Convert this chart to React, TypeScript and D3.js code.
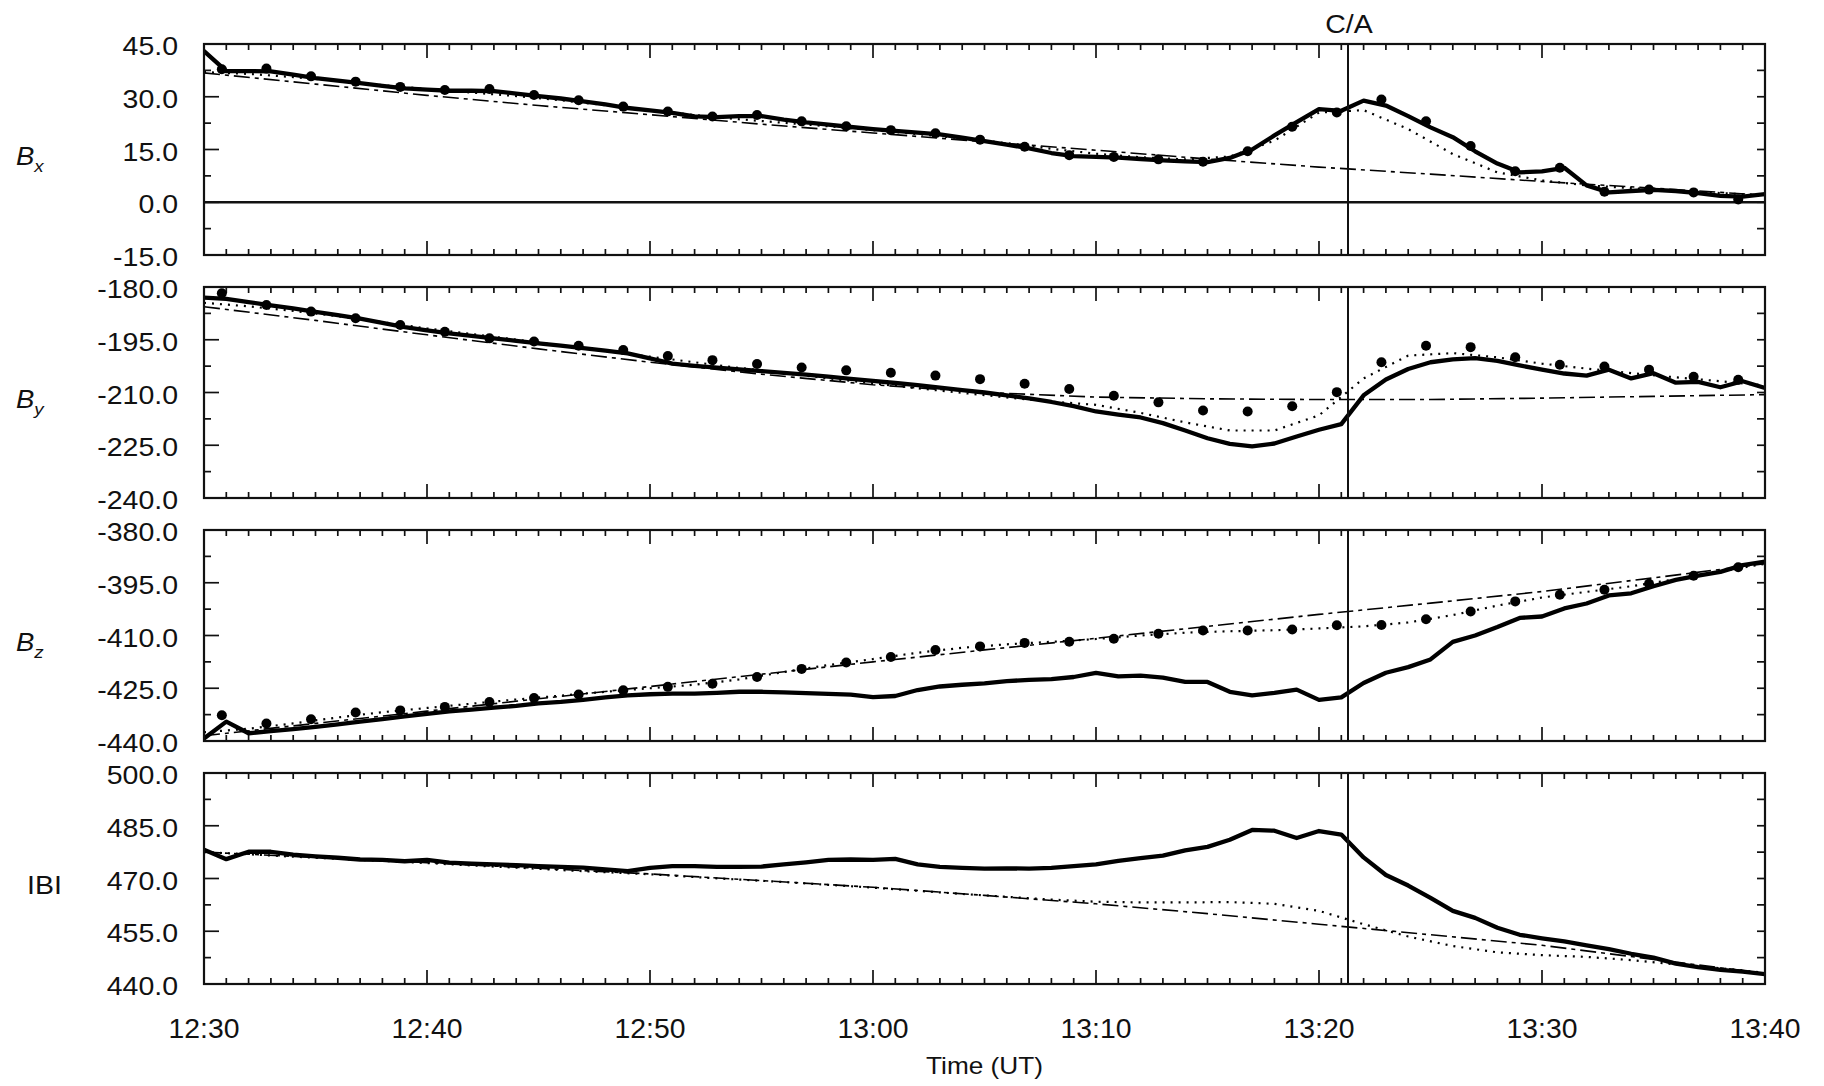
import React from 'react';
import * as d3 from 'd3';

// minutes after 12:30 UT
const timeLabels = ['12:30', '12:40', '12:50', '13:00', '13:10', '13:20', '13:30', '13:40'];
const caMinute = 51.3;

// observed field, one sample per minute 12:30 - 13:40 (nT)
const bxObs = [
  43.0, 37.3, 37.3, 37.2, 36.3, 35.3, 34.6, 33.9, 33.1, 32.4,
  32.0, 31.7, 31.7, 31.6, 30.9, 30.2, 29.5, 28.7, 27.8, 26.8,
  26.1, 25.4, 24.4, 24.2, 24.5, 24.5, 23.5, 22.7, 22.1, 21.4,
  20.8, 20.3, 19.8, 19.3, 18.4, 17.4, 16.4, 15.3, 14.0, 13.1,
  12.9, 12.7, 12.3, 11.9, 11.6, 11.4, 12.6, 15.0, 19.0, 22.8,
  26.5, 26.0, 28.9, 27.5, 24.5, 21.3, 18.5, 14.5, 11.0, 8.5,
  8.8, 9.8, 4.8, 2.8, 3.2, 3.5, 3.2, 2.6, 1.8, 1.6,
  2.3,
];
const byObs = [
  -183.0, -183.4, -184.3, -185.2, -186.1, -187.1, -188.0, -189.0, -190.2, -191.4,
  -192.3, -193.2, -193.9, -194.6, -195.3, -196.0, -196.7, -197.4, -198.1, -198.9,
  -200.3, -201.8, -202.4, -202.9, -203.4, -203.9, -204.4, -204.9, -205.5, -206.1,
  -206.7, -207.3, -207.9, -208.6, -209.3, -210.0, -210.8, -211.7, -212.7, -213.9,
  -215.4, -216.3, -217.1, -218.7, -220.8, -223.0, -224.6, -225.3, -224.5, -222.5,
  -220.6, -219.0, -210.8, -206.3, -203.3, -201.4, -200.6, -200.2, -201.0, -202.3,
  -203.5, -204.6, -205.2, -203.5, -206.0, -204.5, -207.2, -207.0, -208.5, -206.8,
  -208.7,
];
const bzObs = [
  -439.3, -434.5, -437.8, -437.2, -436.6, -436.0, -435.3, -434.5, -433.8, -433.0,
  -432.3, -431.6, -431.1, -430.5, -430.0, -429.3, -428.9, -428.3, -427.6, -427.0,
  -426.7, -426.5, -426.5, -426.3, -426.0, -426.0, -426.2, -426.4, -426.6, -426.8,
  -427.5, -427.2, -425.5, -424.5, -424.0, -423.6, -423.0, -422.6, -422.4, -421.8,
  -420.6, -421.6, -421.4, -422.0, -423.2, -423.2, -426.0, -427.0, -426.3, -425.4,
  -428.3, -427.6, -423.5, -420.6, -419.0, -416.8, -411.8, -410.0, -407.6, -405.0,
  -404.6, -402.3, -400.9, -398.6, -398.0, -396.0, -394.2, -393.0, -391.9, -390.0,
  -389.0,
];
const bmObs = [
  478.2, 475.5, 477.6, 477.6, 476.8, 476.3, 475.9, 475.4, 475.3, 474.9,
  475.3, 474.5, 474.2, 474.0, 473.8, 473.5, 473.3, 473.1, 472.6, 472.1,
  473.0, 473.5, 473.5, 473.3, 473.3, 473.4, 474.0, 474.6, 475.3, 475.4,
  475.3, 475.6, 474.0, 473.3, 473.0, 472.8, 472.9, 472.8, 473.0, 473.5,
  474.0, 475.0, 475.8, 476.5, 478.0, 479.0, 481.0, 483.8, 483.6, 481.5,
  483.5, 482.5, 476.0, 471.0, 468.0, 464.5, 460.8, 458.8, 456.0, 454.0,
  453.0, 452.1, 451.0, 449.9, 448.6, 447.5, 445.8, 444.8, 444.0, 443.5,
  442.8,
];

// background field (dash-dot), every 5 minutes
const bxBase = [36.8, 33.6, 30.4, 27.5, 24.9, 22.2, 19.7, 17.2, 14.8, 12.3, 10.0, 8.0, 5.9, 4.0, 2.0];
const byBase = [-185.6, -189.5, -193.6, -197.6, -201.4, -204.8, -207.8, -210.0, -211.3, -211.8, -212.0, -212.0, -211.6, -211.1, -210.6];
const bzBase = [-438.5, -435.0, -431.5, -428.0, -424.5, -421.0, -417.5, -414.1, -410.8, -407.4, -404.0, -400.8, -397.5, -393.6, -389.6];
const bmBase = [477.5, 476.0, 474.5, 472.9, 471.3, 469.4, 467.5, 465.2, 462.8, 460.0, 457.0, 454.0, 451.0, 447.0, 443.0];

// model field (dotted), every 2 minutes
const bxModel = [
  37.0, 36.5, 35.6, 34.5, 33.3, 32.2, 31.2, 30.2, 29.0, 27.6, 26.2, 24.8,
  23.6, 22.6, 21.6, 20.5, 19.4, 18.2, 16.8, 15.2, 13.8, 12.8, 12.2, 13.0,
  17.5, 25.5, 26.2, 20.8, 13.7, 8.5, 6.2, 4.8, 4.0, 3.3, 2.6, 2.0,
];
const byModel = [
  -184.5, -185.5, -186.8, -188.3, -190.0, -191.8, -193.4, -195.0, -196.6, -198.2, -199.8, -201.4,
  -203.0, -204.5, -206.0, -207.4, -208.8, -210.1, -211.4, -212.6, -213.5, -215.8, -218.5, -220.8,
  -220.8, -216.5, -206.0, -199.5, -198.8, -200.0, -201.8, -203.2, -204.5, -205.7, -206.8, -208.0,
];
const bzModel = [
  -437.5, -436.5, -435.0, -433.3, -431.8, -430.6, -429.4, -428.2, -427.1, -426.0, -425.0, -424.0,
  -422.5, -420.4, -418.4, -416.7, -414.9, -413.5, -412.5, -411.8, -411.0, -410.0, -409.2, -408.8,
  -408.5, -408.0, -407.4, -406.3, -404.2, -401.5, -399.2, -397.6, -396.0, -394.0, -391.8, -389.6,
];
const bmModel = [
  477.5, 476.9, 476.2, 475.6, 475.0, 474.4, 473.7, 473.1, 472.4, 471.8, 471.2, 470.4,
  469.7, 469.0, 468.2, 467.4, 466.5, 465.6, 464.8, 464.0, 463.4, 463.2, 463.2, 463.3,
  462.8, 460.8, 457.0, 453.5, 450.8, 449.0, 448.2, 447.7, 446.8, 445.6, 444.5, 443.2,
];

// marker points
const dotMinutes = [
  0.8, 2.8, 4.8, 6.8, 8.8, 10.8, 12.8, 14.8, 16.8, 18.8, 20.8, 22.8,
  24.8, 26.8, 28.8, 30.8, 32.8, 34.8, 36.8, 38.8, 40.8, 42.8, 44.8, 46.8,
  48.8, 50.8, 52.8, 54.8, 56.8, 58.8, 60.8, 62.8, 64.8, 66.8, 68.8,
];
const bxDots = [
  37.8, 38.0, 35.8, 34.3, 32.8, 31.9, 32.2, 30.5, 29.0, 27.2, 25.8, 24.4,
  24.8, 23.0, 21.6, 20.5, 19.6, 17.8, 15.8, 13.4, 12.9, 12.2, 11.5, 14.5,
  21.5, 25.5, 29.2, 23.0, 16.0, 8.8, 9.8, 3.0, 3.6, 2.8, 0.8,
];
const byDots = [
  -181.8, -185.1, -187.0, -188.9, -190.8, -192.7, -194.6, -195.5, -196.7, -197.9, -199.6, -200.8,
  -201.9, -202.9, -203.7, -204.4, -205.2, -206.2, -207.5, -209.0, -210.9, -212.8, -215.1, -215.4,
  -213.9, -209.9, -201.4, -196.7, -197.1, -200.0, -202.1, -202.6, -203.5, -205.5, -206.4,
];
const bzDots = [
  -432.7, -435.0, -433.8, -431.9, -431.3, -430.3, -428.9, -427.8, -426.8, -425.6, -424.6, -423.7,
  -421.8, -419.5, -417.7, -416.1, -414.1, -413.1, -412.1, -411.8, -410.9, -409.5, -408.6, -408.6,
  -408.3, -407.1, -407.0, -405.4, -403.2, -400.3, -398.4, -397.0, -395.3, -393.0, -390.6,
];

const W = 1824;
const H = 1086;
const LEFT = 204;
const RIGHT = 1765;
const TOP = 44;
const STEP = 243;
const PH = 211;
const FONT = "'Liberation Sans', Arial, Helvetica, sans-serif";
const INK = '#111';
const STRETCH = 1.14;

const x = d3.scaleLinear().domain([0, 70]).range([LEFT, RIGHT]);

const panels = [
  { sub: 'x', domain: [-15, 45], obs: bxObs, base: bxBase, model: bxModel, dots: bxDots, zero: true },
  { sub: 'y', domain: [-240, -180], obs: byObs, base: byBase, model: byModel, dots: byDots },
  { sub: 'z', domain: [-440, -380], obs: bzObs, base: bzBase, model: bzModel, dots: bzDots },
  { sub: '', domain: [440, 500], obs: bmObs, base: bmBase, model: bmModel, dots: null },
];

// text drawn a little wider than the font, like the original figure
function Label({ x: tx, y: ty, anchor = 'start', size, sx = STRETCH, children, italic }: any) {
  return (
    <text
      transform={`translate(${tx},${ty}) scale(${sx},1)`}
      textAnchor={anchor}
      fontSize={size}
      fontFamily={FONT}
      fontStyle={italic ? 'italic' : 'normal'}
      fill={INK}
    >
      {children}
    </text>
  );
}

function Panel({ cfg, i }: any) {
  const top = TOP + i * STEP;
  const bottom = top + PH;
  const [lo, hi] = cfg.domain;
  const y = d3.scaleLinear().domain([lo, hi]).range([bottom, top]);

  const obsLine = d3.line<number>().x((_, k) => x(k)).y((v) => y(v));
  const baseLine = d3.line<number>().x((_, k) => x(k * 5)).y((v) => y(v));
  const modelLine = d3.line<number>().x((_, k) => x(k * 2)).y((v) => y(v));

  const labels = d3.range(lo, hi + 0.01, 15);
  const yTicks = d3.range(lo + 7.5, hi, 7.5);
  const minutes = d3.range(1, 70);
  const clipId = 'clip' + i;
  const mid = (top + bottom) / 2;

  return (
    <g>
      <clipPath id={clipId}>
        <rect x={LEFT} y={top} width={RIGHT - LEFT} height={PH} />
      </clipPath>

      {/* minute ticks top and bottom */}
      {minutes.map((m) => {
        const len = m % 10 === 0 ? 14 : 6;
        return (
          <g key={'t' + m} stroke={INK} strokeWidth={1.7}>
            <line x1={x(m)} x2={x(m)} y1={top} y2={top + len} />
            <line x1={x(m)} x2={x(m)} y1={bottom} y2={bottom - len} />
          </g>
        );
      })}
      {yTicks.map((v) => {
        const major = (v - lo) % 15 === 0;
        return (
          <g key={'y' + v} stroke={INK} strokeWidth={1.7}>
            <line x1={LEFT} x2={LEFT + (major ? 15 : 7)} y1={y(v)} y2={y(v)} />
            <line x1={RIGHT} x2={RIGHT - 8} y1={y(v)} y2={y(v)} />
          </g>
        );
      })}

      {labels.map((v) => (
        <Label key={'l' + v} x={178} y={y(v) + 11} anchor="end" size={25}>
          {v.toFixed(1)}
        </Label>
      ))}

      {cfg.sub ? (
        <text transform={`translate(16,${mid + 15}) scale(1.1,1)`} fontSize={25} fontFamily={FONT} fill={INK}>
          <tspan fontStyle="italic">B</tspan>
          <tspan fontStyle="italic" fontSize={17} dy={7}>
            {cfg.sub}
          </tspan>
        </text>
      ) : (
        <Label x={27} y={mid + 15} size={25}>
          IBI
        </Label>
      )}

      {cfg.zero && (
        <line x1={LEFT} x2={RIGHT} y1={y(0)} y2={y(0)} stroke={INK} strokeWidth={2.4} />
      )}

      <g clipPath={`url(#${clipId})`} fill="none">
        <path d={baseLine(cfg.base) || ''} stroke="#000" strokeWidth={1.6} strokeDasharray="16,5,4,5" />
        <path d={modelLine(cfg.model) || ''} stroke="#000" strokeWidth={2.2} strokeDasharray="2,6" />
        <path
          d={obsLine(cfg.obs) || ''}
          stroke="#000"
          strokeWidth={4.3}
          strokeLinejoin="round"
          strokeLinecap="round"
        />
        {cfg.dots &&
          cfg.dots.map((v: number, k: number) => (
            <circle key={'d' + k} cx={x(dotMinutes[k])} cy={y(v)} r={5} fill="#000" />
          ))}
      </g>

      <line x1={x(caMinute)} x2={x(caMinute)} y1={top} y2={bottom} stroke={INK} strokeWidth={2} />
      <rect x={LEFT} y={top} width={RIGHT - LEFT} height={PH} fill="none" stroke={INK} strokeWidth={2.2} />
    </g>
  );
}

export default function App() {
  return (
    <svg
      width={W}
      height={H}
      viewBox={`0 0 ${W} ${H}`}
      style={{ position: 'absolute', left: 0, top: 0, background: '#fff' }}
    >
      <rect x={0} y={0} width={W} height={H} fill="#fff" />
      {panels.map((cfg, i) => (
        <Panel key={i} cfg={cfg} i={i} />
      ))}
      {timeLabels.map((t, k) => (
        <Label key={t} x={x(k * 10)} y={1038} anchor="middle" size={27} sx={1.05}>
          {t}
        </Label>
      ))}
      <Label x={(LEFT + RIGHT) / 2} y={1074} anchor="middle" size={23}>
        Time (UT)
      </Label>
      <Label x={1349} y={33} anchor="middle" size={25}>
        C/A
      </Label>
    </svg>
  );
}
